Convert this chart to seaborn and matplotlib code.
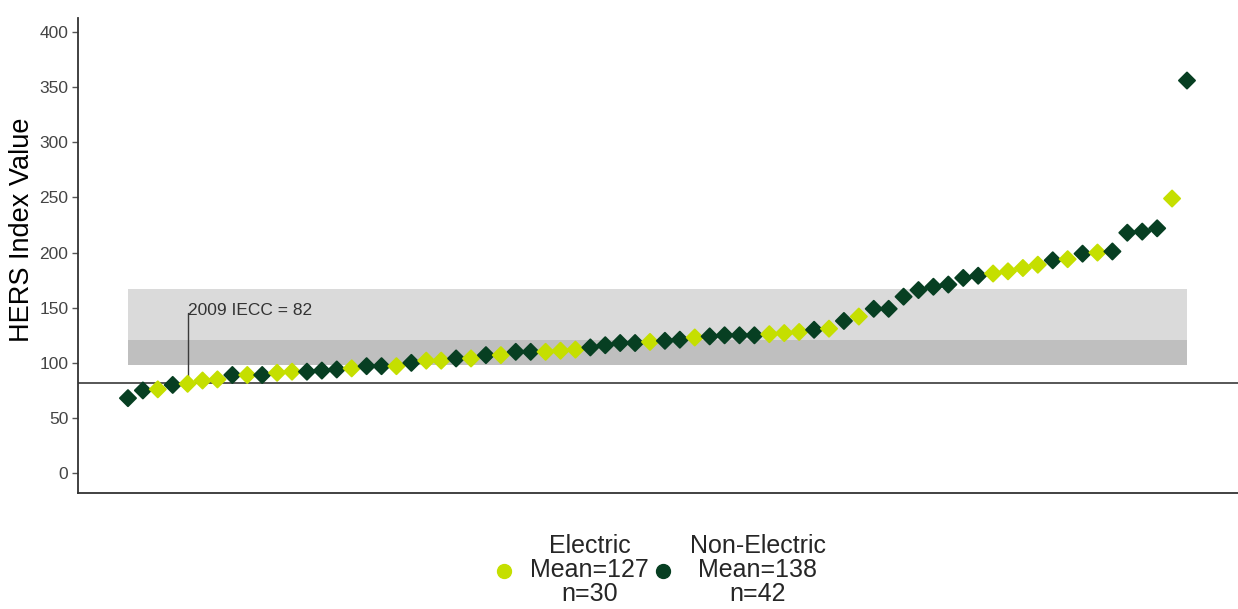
import numpy as np
import pandas as pd
import matplotlib
matplotlib.use("Agg")
import matplotlib.pyplot as plt
from matplotlib.lines import Line2D
import seaborn as sns

# HERS index values, sorted ascending, with the fuel type of each home
hers_values = [
    68, 75, 76, 80, 81, 84, 85, 89, 89, 89,
    91, 92, 92, 93, 94, 95, 97, 97, 97, 100,
    102, 102, 104, 104, 107, 107, 110, 110, 110, 111,
    112, 114, 116, 118, 118, 119, 120, 121, 123, 124,
    125, 125, 125, 126, 127, 128, 130, 131, 138, 142,
    149, 149, 160, 166, 169, 171, 177, 179, 181, 183,
    186, 189, 193, 194, 199, 200, 201, 218, 219, 222,
    249, 356,
]
fuel_types = list(
    "NNENEEENEN"
    "EENNNENNEN"
    "EENENENNEE"
    "ENNNNENNEN"
    "NNNEEENENE"
    "NNNNNNNNEE"
    "EENENENNNN"
    "EN"
)
type_names = {"E": "Electric", "N": "Non-Electric"}
palette = {"Electric": "#c5df00", "Non-Electric": "#073f22"}

code_value = 82
code_label = "2009 IECC = 82"
band_dark = (98, 121)
band_light = (121, 167)
y_ticks = [0, 50, 100, 150, 200, 250, 300, 350, 400]

df = pd.DataFrame({
    "home": np.arange(1, len(hers_values) + 1),
    "hers": hers_values,
    "fuel": [type_names[c] for c in fuel_types],
})

sns.set_style("white")
plt.rcParams["font.family"] = ["Liberation Sans", "DejaVu Sans"]

fig = plt.figure(figsize=(12.38, 6.09), dpi=100)
ax = fig.add_axes([78 / 1238, 1 - 493 / 609, 1 - 78 / 1238, (493 - 18) / 609])

x0, x1 = df["home"].min(), df["home"].max()

# reference bands behind the points
ax.fill_between([x0, x1], band_light[0], band_light[1], color="#dadada", lw=0, zorder=0)
ax.fill_between([x0, x1], band_dark[0], band_dark[1], color="#bfbfbf", lw=0, zorder=0)

# code baseline and its label
ax.axhline(code_value, color="#3a3a3a", lw=1.2, zorder=1)
ann_home = 5
ax.plot([ann_home, ann_home], [code_value, 145], color="#3a3a3a", lw=1.0, zorder=1)
ax.text(ann_home, 147.5, code_label, ha="left", va="center", fontsize=12.5, color="#333333")

sns.scatterplot(
    data=df, x="home", y="hers", hue="fuel", palette=palette,
    marker="D", s=68, linewidth=1.3, legend=False, ax=ax, zorder=3,
)
for coll in ax.collections:
    coll.set_edgecolor("face")
    coll.set_joinstyle("round")

ax.set_xlim(x0 - 3.35, x1 + 3.42)
ax.set_ylim(-18, 412.7)
ax.set_xticks([])
ax.set_yticks(y_ticks)
ax.tick_params(axis="y", length=4, width=1, color="#555555", labelsize=12.5,
               labelcolor="#444444", left=True, direction="out", pad=3)
ax.set_xlabel("")
ax.set_ylabel("HERS Index Value", fontsize=19.5, color="#000000")
ax.yaxis.set_label_coords(-0.0375, 0.554)

for side in ["top", "right"]:
    ax.spines[side].set_visible(False)
for side in ["left", "bottom"]:
    ax.spines[side].set_color("#333333")
    ax.spines[side].set_linewidth(1.3)

# legend with group summaries
handles, labels = [], []
for name in ["Electric", "Non-Electric"]:
    vals = df.loc[df["fuel"] == name, "hers"]
    handles.append(Line2D([], [], marker="o", ls="", markersize=10,
                          markerfacecolor=palette[name], markeredgecolor=palette[name]))
    labels.append(f"{name}\nMean={round(vals.mean())}\nn={len(vals)}")

leg = fig.legend(handles, labels, loc="center", ncol=2,
                 bbox_to_anchor=(659 / 1238, 1 - 570 / 609),
                 frameon=False, fontsize=18, handletextpad=0.62,
                 columnspacing=0.1, handlelength=0.9)
for t in leg.get_texts():
    t.set_multialignment("center")
    t.set_linespacing(1.0)

fig.savefig("out.png", dpi=100)
